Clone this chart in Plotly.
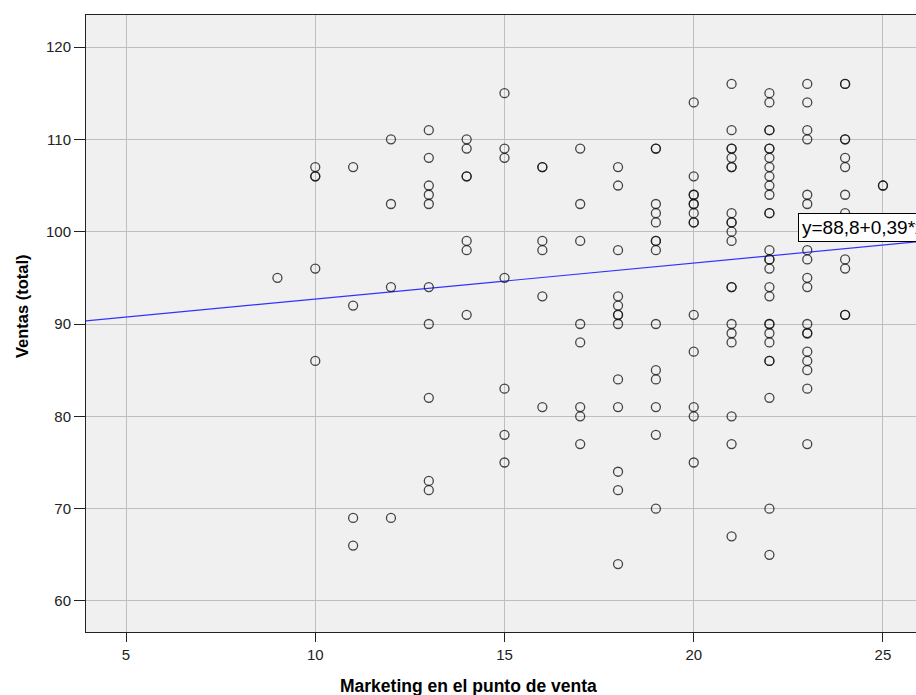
import plotly.graph_objects as go

# Marketing en el punto de venta (x levels) and the Ventas (total) observed at each level
marketing_levels = [9, 10, 11, 12, 13, 14, 15, 16, 17, 18, 19, 20, 21, 22, 23, 24, 25]
ventas_groups = [
    [95],
    [107, 106, 106, 96, 86],
    [107, 92, 69, 66],
    [110, 103, 94, 69],
    [111, 108, 105, 104, 103, 94, 90, 82, 73, 72],
    [110, 109, 106, 106, 99, 98, 91],
    [115, 109, 108, 95, 83, 78, 75],
    [107, 107, 99, 98, 93, 81],
    [109, 103, 99, 90, 88, 81, 80, 77],
    [107, 105, 98, 93, 92, 91, 91, 90, 84, 81, 74, 72, 64],
    [109, 109, 103, 102, 101, 99, 99, 98, 90, 85, 84, 81, 78, 70],
    [114, 106, 104, 104, 103, 103, 102, 101, 101, 91, 87, 81, 80, 75],
    [116, 111, 109, 109, 108, 107, 107, 102, 101, 101, 100, 99, 94, 94, 90, 89, 88, 80, 77, 67],
    [115, 114, 111, 111, 109, 109, 108, 107, 106, 105, 104, 102, 102, 98, 97, 97, 96, 94, 93,
     90, 90, 89, 88, 86, 86, 82, 70, 65],
    [116, 114, 111, 110, 104, 103, 98, 97, 95, 94, 90, 89, 89, 87, 86, 85, 83, 77],
    [116, 116, 110, 110, 108, 107, 104, 102, 97, 96, 91, 91],
    [105, 105],
]

# Linear fit shown on the chart
intercept = 88.8
slope = 0.39
fit_label = "y=88,8+0,39*x"

x_range = [3.942, 25.873]
y_range = [56.64, 123.47]
x_ticks = [5, 10, 15, 20, 25]
y_ticks = [60, 70, 80, 90, 100, 110, 120]

marketing = [m for m, g in zip(marketing_levels, ventas_groups) for _ in g]
ventas = [v for g in ventas_groups for v in g]

font_family = "Liberation Sans, Arial, sans-serif"

fig = go.Figure()

fig.add_trace(go.Scatter(
    x=x_range,
    y=[intercept + slope * x for x in x_range],
    mode="lines",
    line=dict(color="rgb(50,50,255)", width=1.2),
    hoverinfo="skip",
    showlegend=False,
))

fig.add_trace(go.Scatter(
    x=marketing,
    y=ventas,
    mode="markers",
    marker=dict(
        symbol="circle-open",
        size=9,
        color="rgba(20,20,20,0.78)",
        line=dict(width=1.3, color="rgba(20,20,20,0.78)"),
    ),
    showlegend=False,
))

fig.add_annotation(
    x=22.75, y=100.45, xref="x", yref="y",
    text=fit_label, showarrow=False,
    xanchor="left", yanchor="middle",
    font=dict(family=font_family, size=19, color="black"),
    bgcolor="white", bordercolor="black", borderwidth=1, borderpad=3,
)

fig.add_annotation(
    x=468, y=686, xref="paper", yref="paper",
    text="<b>Marketing en el punto de venta</b>", showarrow=False,
    xanchor="center", yanchor="middle",
    font=dict(family=font_family, size=17.5, color="black"),
)
fig.add_annotation(
    x=22, y=306, xref="paper", yref="paper",
    text="<b>Ventas (total)</b>", showarrow=False, textangle=-90,
    xanchor="center", yanchor="middle",
    font=dict(family=font_family, size=16.5, color="black"),
)

W, H = 916, 695
L, T, B = 86, 15, 63
# convert the pixel-based title anchors into paper fractions
plot_w = W - L
plot_h = H - T - B
for ann in fig.layout.annotations[1:]:
    ann.x = (ann.x - L) / plot_w
    ann.y = (H - B - ann.y) / plot_h

fig.update_layout(
    width=W, height=H,
    margin=dict(l=L, r=0, t=T, b=B, pad=0),
    paper_bgcolor="white",
    plot_bgcolor="#F0F0F0",
    font=dict(family=font_family, size=15, color="#222222"),
    xaxis=dict(
        range=x_range, tickvals=x_ticks, ticks="outside", ticklen=9, tickwidth=1,
        tickcolor="#222222", showgrid=True, gridcolor="#BEBEBE", gridwidth=1.2,
        showline=True, linecolor="#222222", linewidth=1, mirror=True,
        zeroline=False, tickfont=dict(size=15),
    ),
    yaxis=dict(
        range=y_range, tickvals=y_ticks, ticks="outside", ticklen=11, tickwidth=1,
        tickcolor="#222222", showgrid=True, gridcolor="#BEBEBE", gridwidth=1.2,
        showline=True, linecolor="#222222", linewidth=1,
        zeroline=False, tickfont=dict(size=15),
    ),
)

fig.write_html("out.html")
